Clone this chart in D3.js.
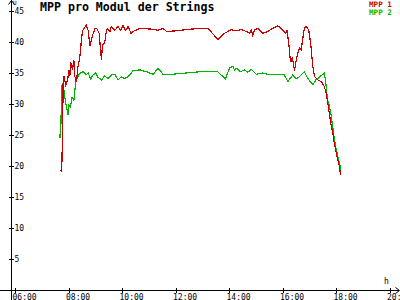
<!DOCTYPE html>
<html>
<head>
<meta charset="utf-8">
<script src="https://cdn.jsdelivr.net/npm/d3@7"></script>
<style>
  html, body { margin: 0; padding: 0; background: #fff; }
  svg { display: block; }
  text { font-family: "DejaVu Sans Mono", "Liberation Mono", monospace; }
</style>
</head>
<body>
<svg id="chart" width="400" height="300"></svg>
<script>
const title = "MPP pro Modul der Strings";
const seriesNames = ["MPP 1", "MPP 2"];
const seriesColors = ["#c80000", "#00b400"];
const xTickLabels = ["06:00", "08:00", "10:00", "12:00", "14:00", "16:00", "18:00", "20:00"];
const yTickValues = [5, 10, 15, 20, 25, 30, 35, 40, 45];

const mpp1Times = ["07:43","07:45","07:47","07:48","07:50","07:52","07:54","07:58","08:01","08:03","08:05","08:09","08:12","08:14","08:18","08:21","08:24","08:27","08:29","08:32","08:36","08:40","08:44","08:48","08:54","08:59","09:03","09:09","09:11","09:14","09:16","09:21","09:24","09:27","09:33","09:36","09:44","09:51","09:57","10:02","10:08","10:14","10:20","10:25","10:40","11:02","11:21","11:32","11:40","12:02","12:24","12:54","13:13","13:35","13:50","14:05","14:16","14:27","14:39","14:46","14:50","14:53","14:57","15:05","15:16","15:27","15:38","15:49","15:57","16:07","16:10","16:14","16:17","16:19","16:22","16:27","16:31","16:34","16:38","16:42","16:45","16:49","16:53","16:59","17:04","17:08","17:12","17:19","17:27","17:34","17:38","17:41","17:45","17:49","17:53","17:56","18:00","18:04","18:08","18:10"];
const mpp1Values = [19.1,19.9,26.6,33.9,34.5,33.6,33.0,33.9,35.5,34.5,36.7,35.5,37.1,34.5,33.5,36.0,37.0,38.5,40.5,41.9,42.3,42.7,41.9,39.4,41.1,42.1,42.2,41.4,39.5,37.1,39.5,39.8,41.4,42.2,41.6,42.5,41.9,42.5,41.9,42.7,41.9,42.5,41.4,41.7,42.2,42.1,41.9,42.2,41.7,41.8,42.0,42.2,42.2,40.4,41.4,42.0,41.8,42.0,41.7,41.4,41.9,41.1,41.9,42.2,41.4,41.7,42.2,42.6,42.2,41.4,41.9,39.8,37.4,36.8,37.6,35.4,37.1,38.2,39.0,38.7,40.3,42.2,42.5,41.9,39.2,36.0,34.4,33.9,33.6,32.8,31.7,30.4,28.5,26.6,25.3,23.7,22.3,21.0,19.8,18.5];

const mpp2Times = ["07:41","07:42","07:43","07:44","07:45","07:46","07:49","07:52","07:54","07:59","08:01","08:04","08:08","08:12","08:16","08:20","08:23","08:29","08:33","08:39","08:44","08:50","08:55","09:01","09:06","09:14","09:21","09:29","09:36","09:44","09:51","09:59","10:06","10:14","10:25","10:40","10:55","11:10","11:21","11:32","11:54","12:24","12:54","13:35","13:52","14:01","14:09","14:12","14:18","14:25","14:35","14:42","14:50","15:01","15:16","15:31","15:53","16:04","16:12","16:23","16:31","16:38","16:49","16:57","17:08","17:15","17:24","17:34","17:38","17:41","17:45","17:49","17:53","17:56","18:00","18:04","18:08","18:11"];
const mpp2Values = [24.5,28.0,26.8,30.0,32.3,33.4,32.7,31.0,30.0,28.3,29.8,29.5,31.0,30.6,33.4,34.3,34.7,35.1,35.2,34.7,35.0,34.0,34.7,35.0,34.3,33.9,34.5,34.1,34.7,34.8,33.9,34.4,34.1,34.4,35.4,35.5,35.2,34.8,35.8,34.8,34.8,35.0,35.2,35.2,34.0,35.8,36.1,35.5,35.8,35.2,35.5,35.1,35.6,34.8,35.0,34.7,34.8,34.7,33.6,34.7,34.1,34.4,35.2,34.1,33.1,33.9,34.4,35.0,32.8,30.6,29.8,28.2,26.1,24.5,22.9,21.5,20.5,19.4];

function hours(s) { const [h, m] = s.split(":").map(Number); return h + m / 60; }

const svg = d3.select("#chart");
const x = d3.scaleLinear().domain([6, 20]).range([15, 389.5]);
const y = d3.scaleLinear().domain([0, 45]).range([290, 11]);
const axisX = 11;

// axes lines
svg.append("line").attr("x1", axisX + 0.5).attr("x2", axisX + 0.5).attr("y1", 0).attr("y2", 300)
  .attr("stroke", "#000").attr("stroke-width", 1).attr("shape-rendering", "crispEdges");
svg.append("line").attr("x1", 0).attr("x2", 399).attr("y1", 290.5).attr("y2", 290.5)
  .attr("stroke", "#000").attr("stroke-width", 1).attr("shape-rendering", "crispEdges");
// arrows
svg.append("path").attr("d", `M${axisX - 2.5},4.5 L${axisX + 0.5},0.5 L${axisX + 3.5},4.5`)
  .attr("fill", "none").attr("stroke", "#000").attr("stroke-width", 1);
svg.append("path").attr("d", `M395.5,287.5 L399.5,290.5 L395.5,293.5`)
  .attr("fill", "none").attr("stroke", "#000").attr("stroke-width", 1);

// y axis ticks and labels
const yAxis = d3.axisRight(y).tickValues(yTickValues).tickSize(2).tickPadding(2).tickFormat(d3.format("d"));
const gy = svg.append("g").attr("transform", `translate(${axisX + 0.5},0)`).call(yAxis);
gy.select(".domain").remove();
gy.selectAll(".tick line").attr("x1", -2.5).attr("x2", 2.5).attr("stroke", "#000").attr("shape-rendering", "crispEdges");
gy.selectAll(".tick text").attr("font-size", 8).attr("fill", "#000")
  .attr("font-family", "DejaVu Sans Mono, monospace").attr("x", 3);

// x axis ticks and labels
const xTickValues = xTickLabels.map(hours);
const xAxis = d3.axisBottom(x).tickValues(xTickValues).tickSize(2).tickPadding(2)
  .tickFormat((d, i) => xTickLabels[i]);
const gx = svg.append("g").attr("transform", `translate(0,290.5)`).call(xAxis);
gx.select(".domain").remove();
gx.selectAll(".tick line").attr("y1", -3).attr("y2", 2.5).attr("stroke", "#000").attr("shape-rendering", "crispEdges");
gx.selectAll(".tick text").attr("font-size", 8).attr("fill", "#000")
  .attr("font-family", "DejaVu Sans Mono, monospace")
  .attr("text-anchor", "start").attr("x", -3).attr("y", 9.5).attr("dy", 0);

// axis unit labels
svg.append("text").attr("x", 13).attr("y", 5).attr("font-size", 6).attr("fill", "#000").text("U");
svg.append("text").attr("x", 384).attr("y", 283.5).attr("font-size", 8).attr("fill", "#000").text("h");

// title
svg.append("text").attr("x", 40).attr("y", 10.5).attr("font-size", 11.6).attr("font-weight", "bold")
  .attr("fill", "#000").text(title);

// legend
seriesNames.forEach((n, i) => {
  svg.append("text").attr("x", 369).attr("y", 7 + i * 8).attr("font-size", 7.6).attr("font-weight", "bold")
    .attr("fill", seriesColors[i]).text(n);
});

// lines
const line = d3.line().x(d => x(d.t)).y(d => y(d.v));
const series = [
  mpp1Times.map((t, i) => ({ t: hours(t), v: mpp1Values[i] })),
  mpp2Times.map((t, i) => ({ t: hours(t), v: mpp2Values[i] }))
];
[1, 0].forEach(i => {
  svg.append("path").datum(series[i]).attr("d", line)
    .attr("fill", "none").attr("stroke", seriesColors[i]).attr("stroke-width", 1.2)
    .attr("shape-rendering", "crispEdges");
});
</script>
</body>
</html>
